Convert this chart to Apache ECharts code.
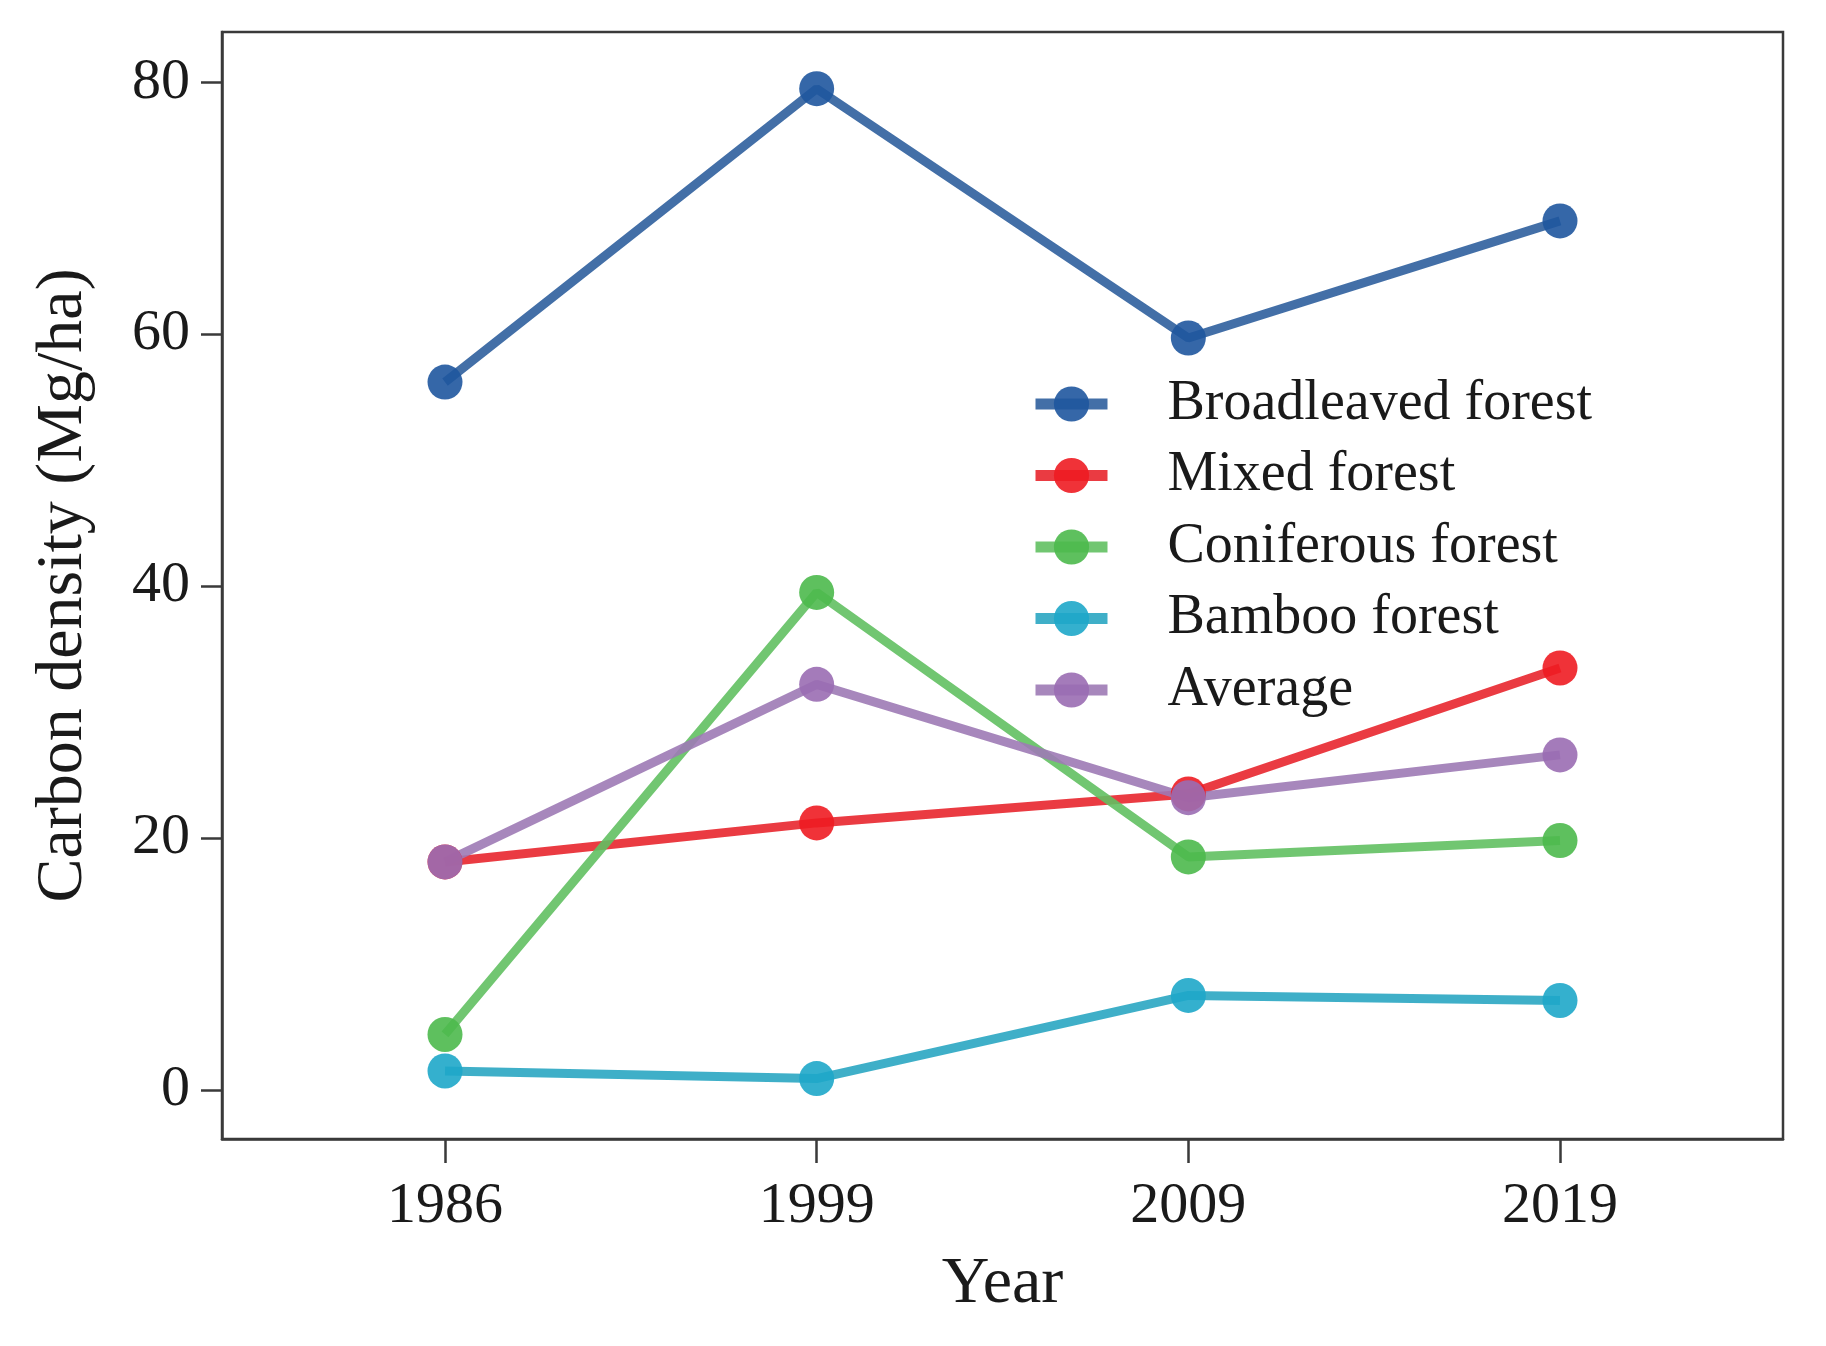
<!DOCTYPE html>
<html>
<head>
<meta charset="utf-8">
<script src="https://cdn.jsdelivr.net/npm/echarts@6/dist/echarts.min.js"></script>
<style>
html,body{margin:0;padding:0;background:#fff;}
#chart{width:1826px;height:1346px;}
</style>
</head>
<body>
<div id="chart"></div>
<script>
const years = ['1986', '1999', '2009', '2019'];
const yTicks = [0, 20, 40, 60, 80];
const broadleaved = [56.2, 79.5, 59.7, 69.0];
const mixed = [18.1, 21.2, 23.5, 33.5];
const coniferous = [4.4, 39.5, 18.5, 19.8];
const bamboo = [1.5, 0.9, 7.5, 7.1];
const average = [18.1, 32.2, 23.2, 26.6];

const seriesDefs = [
  {name: 'Broadleaved forest', data: broadleaved, line: '#2f5f9d', mark: '#1f579e'},
  {name: 'Mixed forest', data: mixed, line: '#e8262d', mark: '#ee1c22'},
  {name: 'Coniferous forest', data: coniferous, line: '#62c062', mark: '#4cb94c'},
  {name: 'Bamboo forest', data: bamboo, line: '#2aa6c2', mark: '#1ea7c9'},
  {name: 'Average', data: average, line: '#9d7ab5', mark: '#9a6db2'}
];

const font = 'Liberation Serif';
const chart = echarts.init(document.getElementById('chart'), null, {renderer: 'canvas'});

chart.setOption({
  backgroundColor: '#fff',
  animation: false,
  grid: {
    left: 222, top: 32, width: 1561, height: 1107,
    show: true, borderColor: '#3a3a3a', borderWidth: 2.5, containLabel: false
  },
  legend: {
    left: 1025, top: 371,
    orient: 'vertical',
    itemWidth: 72, itemHeight: 44, itemGap: 15.5,
    lineStyle: {width: 11},
    textStyle: {fontFamily: font, fontSize: 56, color: '#1a1a1a', lineHeight: 44, padding: [0, 0, 0, 55]},
    data: seriesDefs.map(s => s.name)
  },
  xAxis: {
    type: 'value', min: -0.6, max: 3.6,
    name: 'Year', nameLocation: 'middle', nameGap: 113,
    nameTextStyle: {fontFamily: font, fontSize: 66, color: '#1a1a1a'},
    axisLine: {show: true, onZero: false, lineStyle: {color: '#3a3a3a', width: 2.5}},
    axisTick: {show: true, length: 24, customValues: [0, 1, 2, 3], lineStyle: {color: '#3a3a3a', width: 2.5}},
    axisLabel: {
      customValues: [0, 1, 2, 3], margin: 39,
      fontFamily: font, fontSize: 58, color: '#1a1a1a',
      formatter: v => years[Math.round(v)]
    },
    splitLine: {show: false}
  },
  yAxis: {
    type: 'value', min: -3.9, max: 84.0,
    name: 'Carbon density (Mg/ha)', nameLocation: 'middle', nameGap: 125,
    nameTextStyle: {fontFamily: font, fontSize: 66, color: '#1a1a1a'},
    axisLine: {show: true, onZero: false, lineStyle: {color: '#3a3a3a', width: 2.5}},
    axisTick: {show: true, length: 21, customValues: yTicks, lineStyle: {color: '#3a3a3a', width: 2.5}},
    axisLabel: {
      customValues: yTicks, margin: 32,
      fontFamily: font, fontSize: 58, color: '#1a1a1a'
    },
    splitLine: {show: false}
  },
  series: seriesDefs.map(s => ({
    name: s.name,
    type: 'line',
    data: s.data.map((v, i) => [i, v]),
    symbol: 'circle',
    symbolSize: 35,
    lineStyle: {color: s.line, width: 9, opacity: 0.9},
    itemStyle: {color: s.mark, opacity: 0.9},
    emphasis: {disabled: true}
  }))
});
</script>
</body>
</html>
